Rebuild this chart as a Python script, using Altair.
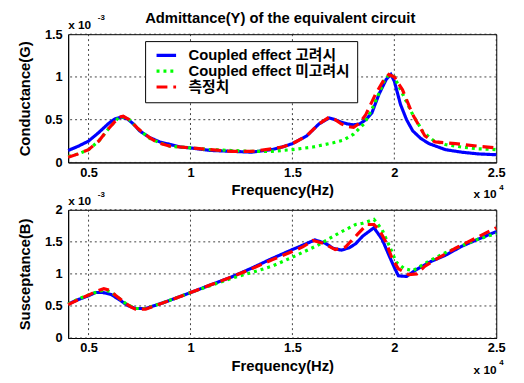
import altair as alt
import pandas as pd

SERIES = ["Coupled effect 고려시", "Coupled effect 미고려시", "측정치"]
COLORS = ["#0000ff", "#00ff00", "#ff0000"]
DASHES = [[1, 0], [3, 4], [11, 6]]

TITLE = "Admittance(Y) of the equivalent circuit"
X_TITLE = "Frequency(Hz)"
Y1_TITLE = "Conductance(G)"
Y2_TITLE = "Susceptance(B)"
X_TICKS = [0.5, 1, 1.5, 2, 2.5]
Y1_TICKS = [0, 0.5, 1, 1.5]
Y2_TICKS = [0, 0.5, 1, 1.5, 2]

# Conductance (x 1e-3 S) vs frequency (x 1e4 Hz)
g_blue_f = [0.4, 0.45, 0.5, 0.55, 0.6, 0.63, 0.66, 0.69, 0.72, 0.75, 0.8, 0.85, 0.9, 0.95, 1.0, 1.1, 1.2,
            1.3, 1.4, 1.45, 1.5, 1.57, 1.63, 1.68, 1.71, 1.74, 1.77, 1.8, 1.83, 1.86, 1.89, 1.925, 1.96,
            1.983, 2.0, 2.03, 2.06, 2.09, 2.13, 2.17, 2.25, 2.33, 2.41, 2.5]
g_blue_v = [0.14, 0.19, 0.25, 0.35, 0.46, 0.51, 0.53, 0.51, 0.45, 0.37, 0.29, 0.24, 0.21, 0.18, 0.17, 0.14,
            0.13, 0.12, 0.15, 0.18, 0.22, 0.31, 0.45, 0.52, 0.50, 0.47, 0.45, 0.44, 0.45, 0.50, 0.58, 0.80,
            0.97, 1.03, 0.95, 0.68, 0.50, 0.37, 0.28, 0.22, 0.15, 0.12, 0.10, 0.09]

g_green_f = [0.4, 0.45, 0.5, 0.55, 0.6, 0.63, 0.65, 0.68, 0.7, 0.74, 0.8, 0.85, 0.9, 1.0, 1.1, 1.2, 1.3,
             1.4, 1.5, 1.6, 1.7, 1.75, 1.8, 1.85, 1.886, 1.925, 1.95, 1.975, 2.0, 2.045, 2.09, 2.14,
             2.19, 2.25, 2.33, 2.41, 2.5]
g_green_v = [0.07, 0.10, 0.15, 0.25, 0.40, 0.48, 0.53, 0.53, 0.50, 0.40, 0.28, 0.23, 0.19, 0.17, 0.15,
             0.14, 0.13, 0.13, 0.15, 0.18, 0.23, 0.26, 0.33, 0.45, 0.60, 0.81, 0.95, 1.03, 1.00, 0.78,
             0.56, 0.36, 0.26, 0.21, 0.18, 0.16, 0.15]

g_red_f = [0.4, 0.45, 0.5, 0.55, 0.6, 0.63, 0.65, 0.67, 0.7, 0.745, 0.8, 0.84, 0.9, 1.0, 1.1, 1.2, 1.3,
           1.4, 1.45, 1.5, 1.57, 1.63, 1.68, 1.71, 1.74, 1.77, 1.8, 1.83, 1.86, 1.91, 1.945, 1.973, 2.0,
           2.04, 2.09, 2.15, 2.2, 2.3, 2.41, 2.5]
g_red_v = [0.06, 0.10, 0.15, 0.25, 0.40, 0.48, 0.53, 0.54, 0.50, 0.39, 0.29, 0.23, 0.19, 0.17, 0.15, 0.13,
           0.13, 0.16, 0.18, 0.22, 0.31, 0.45, 0.53, 0.50, 0.45, 0.42, 0.41, 0.46, 0.56, 0.81, 0.95, 1.03,
           1.00, 0.85, 0.56, 0.31, 0.24, 0.22, 0.19, 0.17]

# Susceptance (x 1e-3 S) vs frequency (x 1e4 Hz)
b_blue_f = [0.4, 0.45, 0.5, 0.535, 0.57, 0.61, 0.65, 0.69, 0.73, 0.78, 0.875, 0.985, 1.1, 1.2, 1.3, 1.4,
            1.5, 1.56, 1.61, 1.66, 1.7, 1.74, 1.78, 1.81, 1.845, 1.9, 1.94, 1.975, 2.0, 2.02, 2.06, 2.1,
            2.17, 2.25, 2.33, 2.41, 2.5]
b_blue_v = [0.53, 0.60, 0.66, 0.71, 0.71, 0.68, 0.60, 0.51, 0.46, 0.46, 0.56, 0.69, 0.83, 0.95, 1.09, 1.24,
            1.38, 1.46, 1.53, 1.48, 1.40, 1.37, 1.41, 1.47, 1.59, 1.72, 1.54, 1.28, 1.10, 0.97, 0.96, 1.05,
            1.18, 1.29, 1.43, 1.54, 1.66]

b_green_f = [0.4, 0.45, 0.5, 0.55, 0.58, 0.61, 0.65, 0.69, 0.73, 0.78, 0.875, 0.985, 1.1, 1.2, 1.33, 1.4,
             1.5, 1.62, 1.73, 1.81, 1.845, 1.9, 1.94, 1.975, 2.01, 2.05, 2.09, 2.17, 2.25, 2.33, 2.41, 2.5]
b_green_v = [0.53, 0.61, 0.67, 0.73, 0.75, 0.72, 0.62, 0.52, 0.46, 0.46, 0.56, 0.69, 0.82, 0.93, 1.05, 1.12,
             1.26, 1.44, 1.64, 1.77, 1.79, 1.85, 1.69, 1.44, 1.18, 1.08, 1.05, 1.20, 1.33, 1.44, 1.54, 1.63]

b_red_f = [0.4, 0.45, 0.5, 0.54, 0.575, 0.61, 0.63, 0.67, 0.705, 0.73, 0.78, 0.875, 0.985, 1.1, 1.2, 1.3,
           1.4, 1.5, 1.55, 1.6, 1.65, 1.71, 1.76, 1.82, 1.865, 1.9, 1.925, 1.96, 1.99, 2.02, 2.07, 2.11,
           2.15, 2.2, 2.3, 2.4, 2.5]
b_red_v = [0.52, 0.60, 0.67, 0.73, 0.77, 0.74, 0.67, 0.57, 0.49, 0.45, 0.45, 0.56, 0.69, 0.83, 0.95, 1.08,
           1.22, 1.35, 1.42, 1.52, 1.48, 1.38, 1.42, 1.62, 1.77, 1.77, 1.69, 1.49, 1.23, 1.08, 0.99, 1.00,
           1.12, 1.22, 1.40, 1.56, 1.72]


def frame(parts):
    rows = []
    for name, fs, vs in parts:
        for i, (f, v) in enumerate(zip(fs, vs)):
            rows.append({"series": name, "f": f, "v": v, "i": i})
    return pd.DataFrame(rows)


g_df = frame([(SERIES[0], g_blue_f, g_blue_v), (SERIES[1], g_green_f, g_green_v), (SERIES[2], g_red_f, g_red_v)])
b_df = frame([(SERIES[0], b_blue_f, b_blue_v), (SERIES[1], b_green_f, b_green_v), (SERIES[2], b_red_f, b_red_v)])

FONT = "Arial, 'Noto Sans CJK KR', sans-serif"
W, H = 434, 130

legend = alt.Legend(
    orient="none", legendX=78, legendY=7, title=None, direction="vertical",
    fillColor="white", strokeColor="black", padding=7, cornerRadius=0,
    symbolType="M-2.2,0L2.2,0", symbolSize=81, symbolStrokeWidth=3.2, symbolOffset=7,
    labelFont=FONT, labelFontSize=15, labelFontWeight="bold", labelColor="black",
    labelOffset=15, labelLimit=400, rowPadding=-2,
)


def panel(df, ytitle, ydom, yticks, with_legend):
    xs = alt.Scale(domain=[0.4, 2.5], nice=False, zero=False)
    ys = alt.Scale(domain=ydom, nice=False)
    xax = alt.Axis(values=X_TICKS, title=X_TITLE, format="~g", labelPadding=4,
                   titlePadding=4, labelFlush=False, grid=False)
    yax = alt.Axis(values=yticks, title=ytitle, format="~g", labelPadding=6,
                   titlePadding=12, labelFlush=False, grid=False)
    vgrid = alt.Chart(pd.DataFrame({"f": X_TICKS})).mark_rule(
        color="#222222", strokeDash=[2, 3], strokeWidth=1, opacity=0.85
    ).encode(x=alt.X("f:Q", scale=xs, axis=xax))
    hgrid = alt.Chart(pd.DataFrame({"v": yticks})).mark_rule(
        color="#222222", strokeDash=[2, 3], strokeWidth=1, opacity=0.85
    ).encode(y=alt.Y("v:Q", scale=ys, axis=yax))
    lines = alt.Chart(df).mark_line(strokeWidth=3.2, strokeCap="butt").encode(
        x=alt.X("f:Q", scale=xs, axis=xax),
        y=alt.Y("v:Q", scale=ys, axis=yax),
        color=alt.Color("series:N", scale=alt.Scale(domain=SERIES, range=COLORS),
                        legend=legend if with_legend else None),
        strokeDash=alt.StrokeDash("series:N", scale=alt.Scale(domain=SERIES, range=DASHES),
                                  legend=legend if with_legend else None),
        order="i:Q",
    )
    return vgrid, hgrid, lines


def txt(s, x, y, size, align="left"):
    return alt.Chart(pd.DataFrame({"t": [s]})).mark_text(
        font=FONT, fontSize=size, fontWeight="bold", color="black", align=align, baseline="middle"
    ).encode(text="t:N", x=alt.value(x), y=alt.value(y))


top = alt.layer(
    *panel(g_df, Y1_TITLE, [0, 1.5], Y1_TICKS, True),
    txt(TITLE, 215, -16, 15, "center"),
    txt("x 10", 0, -9, 12),
    txt("-3", 30, -16, 8),
    txt("x 10", 411, H + 32, 12),
    txt("4", 437, H + 26, 8),
).properties(width=W, height=H)

bottom = alt.layer(
    *panel(b_df, Y2_TITLE, [0, 2], Y2_TICKS, False),
    txt("x 10", 0, -9, 12),
    txt("-3", 30, -15, 8),
    txt("x 10", 411, H + 32, 12),
    txt("4", 437, H + 25, 8),
).properties(width=W, height=H)

chart = alt.vconcat(top, bottom, spacing=48, bounds="flush").resolve_legend(
    color="independent", strokeDash="independent"
).properties(
    padding={"left": 9, "top": 0, "right": 10, "bottom": 2},
    background="white",
).configure_view(stroke="black", strokeWidth=1).configure_axis(
    labelFont=FONT, labelFontSize=13, labelFontWeight="bold", labelColor="black",
    titleFont=FONT, titleFontSize=15, titleFontWeight="bold", titleColor="black",
    domainColor="black", domainWidth=1, ticks=False,
)

chart.save("out.html", embed_options={"renderer": "svg", "actions": False})
